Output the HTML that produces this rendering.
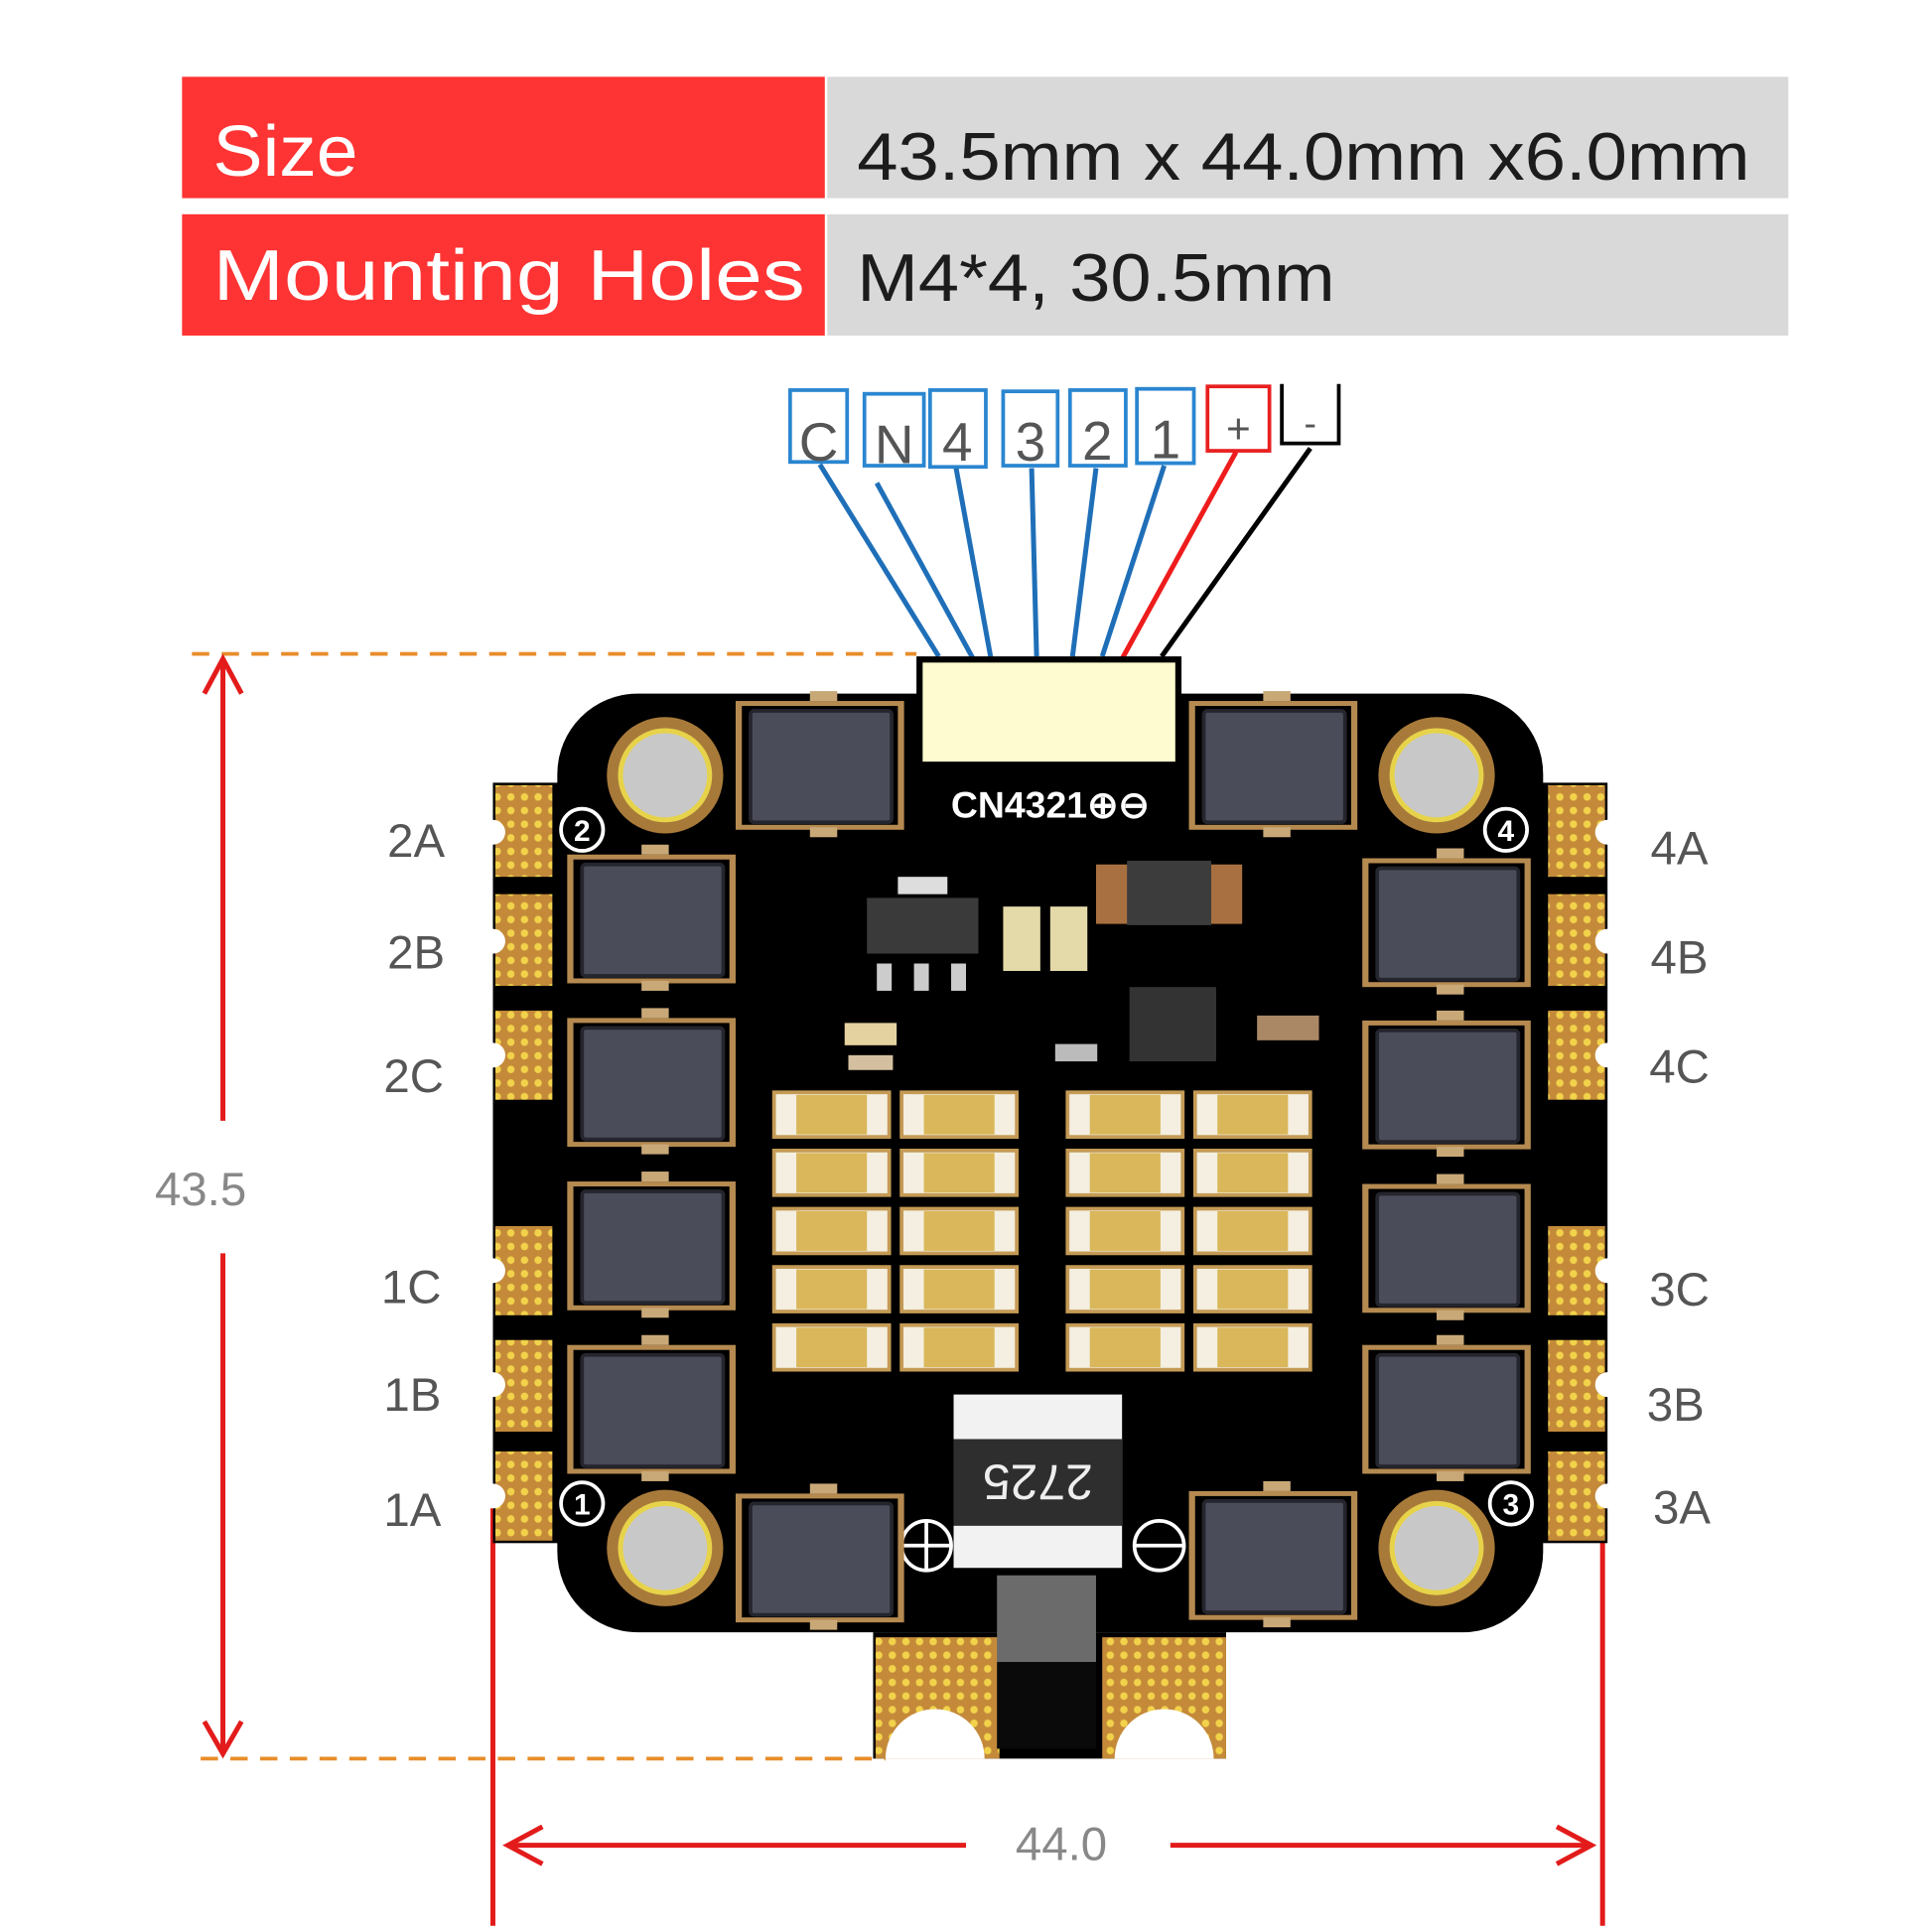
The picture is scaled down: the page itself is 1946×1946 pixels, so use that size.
<!DOCTYPE html>
<html><head><meta charset="utf-8"><style>
html,body{margin:0;padding:0;background:#fff;}
svg{display:block;}
text{font-family:"Liberation Sans",sans-serif;}
</style></head><body>
<svg width="1946" height="1946" viewBox="0 0 1560 1560" xmlns="http://www.w3.org/2000/svg">
<defs>
<pattern id="dots" width="11" height="11" patternUnits="userSpaceOnUse">
<rect width="11" height="11" fill="#c48a3a"/><circle cx="5.5" cy="5.5" r="3" fill="#f2d24a"/>
</pattern>
<g id="fet">
<rect x="-8" y="-4" width="136" height="104" fill="#b58a50"/>
<rect x="-3" y="0" width="126" height="96" fill="#000"/>
<rect x="4" y="4" width="114" height="90" rx="3" fill="#4b4c5a" stroke="#25252d" stroke-width="3"/>
<rect x="52" y="-12" width="22" height="8" fill="#c9a878"/>
<rect x="52" y="98" width="22" height="8" fill="#c9a878"/>
</g>
<g id="cap">
<rect x="0" y="0" width="93" height="36" fill="#f4efe0"/>
<rect x="18" y="2" width="57" height="32" fill="#d9b75a"/>
<rect x="0" y="0" width="93" height="36" fill="none" stroke="#c49a55" stroke-width="3"/>
</g>
</defs>
<rect width="1560" height="1560" fill="#fff"/>
<!-- table -->
<rect x="147" y="62" width="519" height="98" fill="#fe3333"/>
<rect x="668" y="62" width="776" height="98" fill="#d9d9d9"/>
<rect x="147" y="173" width="519" height="98" fill="#fe3333"/>
<rect x="668" y="173" width="776" height="98" fill="#d9d9d9"/>
<text x="172" y="142" font-size="58" fill="#fff" textLength="117" lengthAdjust="spacingAndGlyphs">Size</text>
<text x="172" y="242" font-size="58" fill="#fff" textLength="478" lengthAdjust="spacingAndGlyphs">Mounting Holes</text>
<text x="692" y="145" font-size="54" fill="#1c1c1c" textLength="721" lengthAdjust="spacingAndGlyphs">43.5mm x 44.0mm x6.0mm</text>
<text x="692" y="243" font-size="54" fill="#1c1c1c" textLength="386" lengthAdjust="spacingAndGlyphs">M4*4, 30.5mm</text>

<!-- wire labels -->
<g fill="#fff" stroke-width="3">
<rect x="638" y="315" width="46" height="58" stroke="#2a86d0"/>
<rect x="698" y="318" width="48" height="58" stroke="#2a86d0"/>
<rect x="751" y="315" width="45" height="62" stroke="#2a86d0"/>
<rect x="810" y="316" width="44" height="60" stroke="#2a86d0"/>
<rect x="864" y="315" width="45" height="61" stroke="#2a86d0"/>
<rect x="918" y="314" width="46" height="60" stroke="#2a86d0"/>
<rect x="975" y="312" width="50" height="52" stroke="#e82020"/>
</g>
<path d="M1035 310 V358 H1081 V310" fill="none" stroke="#000" stroke-width="3"/>
<g font-size="44" fill="#555" text-anchor="middle">
<text x="661" y="372">C</text><text x="722" y="374">N</text><text x="773" y="372">4</text>
<text x="832" y="372">3</text><text x="886" y="371">2</text><text x="941" y="370">1</text>
<text x="1000" y="358" font-size="34">+</text><text x="1058" y="352" font-size="30">-</text>
</g>
<g stroke="#1f6fb8" stroke-width="4" fill="none">
<line x1="662" y1="375" x2="758" y2="530"/>
<line x1="708" y1="390" x2="788" y2="536"/>
<line x1="772" y1="378" x2="800" y2="531"/>
<line x1="833" y1="378" x2="837" y2="530"/>
<line x1="885" y1="378" x2="866" y2="530"/>
<line x1="940" y1="376" x2="890" y2="530"/>
</g>
<line x1="998" y1="365" x2="906" y2="532" stroke="#ee1c1c" stroke-width="4"/>
<line x1="1058" y1="362" x2="938" y2="530" stroke="#000" stroke-width="4"/>

<!-- dimension lines -->
<line x1="155" y1="528" x2="740" y2="528" stroke="#e88d2a" stroke-width="3" stroke-dasharray="14 10"/>
<line x1="162" y1="1420" x2="715" y2="1420" stroke="#e88d2a" stroke-width="3" stroke-dasharray="14 10"/>
<g stroke="#e31b1b" stroke-width="4" fill="none">
<line x1="180" y1="532" x2="180" y2="905"/>
<line x1="180" y1="1012" x2="180" y2="1416"/>
<path d="M165 560 L180 532 L195 560"/>
<path d="M165 1390 L180 1416 L195 1390"/>
<line x1="398" y1="1205" x2="398" y2="1555"/>
<line x1="1294" y1="1205" x2="1294" y2="1555"/>
<line x1="410" y1="1490" x2="780" y2="1490"/>
<line x1="945" y1="1490" x2="1285" y2="1490"/>
<path d="M438 1475 L410 1490 L438 1505"/>
<path d="M1257 1475 L1285 1490 L1257 1505"/>
</g>
<text x="162" y="973" font-size="38" fill="#888" text-anchor="middle" font-family="Liberation Serif">43.5</text>
<text x="857" y="1502" font-size="38" fill="#888" text-anchor="middle" font-family="Liberation Serif">44.0</text>

<!-- side labels -->
<g font-size="38" fill="#555" text-anchor="middle">
<text x="336" y="692">2A</text><text x="336" y="782">2B</text><text x="334" y="882">2C</text>
<text x="332" y="1052">1C</text><text x="333" y="1139">1B</text><text x="333" y="1232">1A</text>
<text x="1356" y="698">4A</text><text x="1356" y="786">4B</text><text x="1356" y="874">4C</text>
<text x="1356" y="1054">3C</text><text x="1353" y="1147">3B</text><text x="1358" y="1230">3A</text>
</g>

<!-- board -->
<rect x="398" y="632" width="900" height="614" fill="#000"/>
<rect x="450" y="560" width="796" height="758" rx="65" fill="#000"/>
<g fill="url(#dots)">
<rect x="400" y="634" width="46" height="74"/><rect x="400" y="722" width="46" height="74"/>
<rect x="400" y="816" width="46" height="72"/><rect x="400" y="990" width="46" height="72"/>
<rect x="400" y="1082" width="46" height="74"/><rect x="400" y="1172" width="46" height="72"/>
<rect x="1250" y="634" width="46" height="74"/><rect x="1250" y="722" width="46" height="74"/>
<rect x="1250" y="816" width="46" height="72"/><rect x="1250" y="990" width="46" height="72"/>
<rect x="1250" y="1082" width="46" height="74"/><rect x="1250" y="1172" width="46" height="72"/>
</g>
<g fill="#fff">
<circle cx="398" cy="672" r="10"/><circle cx="398" cy="760" r="10"/><circle cx="398" cy="852" r="10"/>
<circle cx="398" cy="1026" r="10"/><circle cx="398" cy="1118" r="10"/><circle cx="398" cy="1208" r="10"/>
<circle cx="1298" cy="672" r="10"/><circle cx="1298" cy="760" r="10"/><circle cx="1298" cy="852" r="10"/>
<circle cx="1298" cy="1026" r="10"/><circle cx="1298" cy="1118" r="10"/><circle cx="1298" cy="1208" r="10"/>
</g>
<!-- bottom tab -->
<rect x="705" y="1318" width="285" height="102" fill="#000"/>
<rect x="707" y="1322" width="100" height="98" fill="url(#dots)"/>
<rect x="890" y="1322" width="100" height="98" fill="url(#dots)"/>
<path d="M715 1420 A40 40 0 0 1 795 1420 Z" fill="#fff"/>
<path d="M900 1420 A40 40 0 0 1 980 1420 Z" fill="#fff"/>
<rect x="805" y="1272" width="80" height="70" fill="#6b6b6b"/>
<rect x="805" y="1342" width="80" height="70" fill="#0a0a0a"/>

<!-- mounting holes -->
<g>
<circle cx="537" cy="626" r="47" fill="#a87a3a"/><circle cx="537" cy="626" r="38" fill="#e7d34a"/><circle cx="537" cy="626" r="34" fill="#c8c8c8"/>
<circle cx="1160" cy="626" r="47" fill="#a87a3a"/><circle cx="1160" cy="626" r="38" fill="#e7d34a"/><circle cx="1160" cy="626" r="34" fill="#c8c8c8"/>
<circle cx="537" cy="1250" r="47" fill="#a87a3a"/><circle cx="537" cy="1250" r="38" fill="#e7d34a"/><circle cx="537" cy="1250" r="34" fill="#c8c8c8"/>
<circle cx="1160" cy="1250" r="47" fill="#a87a3a"/><circle cx="1160" cy="1250" r="38" fill="#e7d34a"/><circle cx="1160" cy="1250" r="34" fill="#c8c8c8"/>
</g>
<g fill="none" stroke="#fff" stroke-width="3">
<circle cx="470" cy="670" r="17"/><circle cx="1216" cy="670" r="17"/>
<circle cx="470" cy="1214" r="17"/><circle cx="1220" cy="1214" r="17"/>
<circle cx="748" cy="1248" r="20"/><circle cx="936" cy="1248" r="20"/>
<line x1="728" y1="1248" x2="768" y2="1248"/><line x1="748" y1="1228" x2="748" y2="1268"/>
<line x1="916" y1="1248" x2="956" y2="1248"/>
</g>
<g font-size="24" fill="#fff" text-anchor="middle" font-weight="bold">
<text x="470" y="679">2</text><text x="1216" y="679">4</text><text x="470" y="1223">1</text><text x="1220" y="1223">3</text>
</g>

<!-- connector -->
<rect x="740" y="530" width="214" height="100" fill="#000"/>
<rect x="745" y="535" width="204" height="80" fill="#fdfbcf"/>
<text x="848" y="660" font-size="30" fill="#fff" text-anchor="middle" font-weight="bold" font-family="Liberation Mono">CN4321⊕⊖</text>

<!-- MOSFETs -->
<use href="#fet" x="466" y="694"/><use href="#fet" x="466" y="826"/>
<use href="#fet" x="466" y="958"/><use href="#fet" x="466" y="1090"/>
<use href="#fet" x="1108" y="697"/><use href="#fet" x="1108" y="828"/>
<use href="#fet" x="1108" y="960"/><use href="#fet" x="1108" y="1090"/>
<use href="#fet" x="602" y="570"/><use href="#fet" x="968" y="570"/>
<use href="#fet" x="602" y="1210"/><use href="#fet" x="968" y="1208"/>

<!-- small parts -->
<rect x="700" y="725" width="90" height="45" fill="#3a3a3a"/>
<rect x="725" y="708" width="40" height="14" fill="#ddd"/>
<rect x="708" y="778" width="12" height="22" fill="#ccc"/><rect x="738" y="778" width="12" height="22" fill="#ccc"/><rect x="768" y="778" width="12" height="22" fill="#ccc"/>
<rect x="885" y="698" width="118" height="48" fill="#a87040"/><rect x="910" y="695" width="68" height="52" fill="#3c3c3c"/>
<rect x="810" y="732" width="30" height="52" fill="#e4d9a8"/><rect x="848" y="732" width="30" height="52" fill="#e4d9a8"/>
<rect x="912" y="797" width="70" height="60" fill="#333"/>
<rect x="682" y="826" width="42" height="18" fill="#e4d2a0"/><rect x="685" y="852" width="36" height="12" fill="#d4c0a0"/>
<rect x="1015" y="820" width="50" height="20" fill="#aa8866"/>
<rect x="852" y="843" width="34" height="14" fill="#bbb"/>

<!-- caps -->
<g>
<use href="#cap" x="625" y="882"/><use href="#cap" x="728" y="882"/><use href="#cap" x="862" y="882"/><use href="#cap" x="965" y="882"/>
<use href="#cap" x="625" y="929"/><use href="#cap" x="728" y="929"/><use href="#cap" x="862" y="929"/><use href="#cap" x="965" y="929"/>
<use href="#cap" x="625" y="976"/><use href="#cap" x="728" y="976"/><use href="#cap" x="862" y="976"/><use href="#cap" x="965" y="976"/>
<use href="#cap" x="625" y="1023"/><use href="#cap" x="728" y="1023"/><use href="#cap" x="862" y="1023"/><use href="#cap" x="965" y="1023"/>
<use href="#cap" x="625" y="1070"/><use href="#cap" x="728" y="1070"/><use href="#cap" x="862" y="1070"/><use href="#cap" x="965" y="1070"/>
</g>

<!-- shunt resistor -->
<rect x="770" y="1126" width="136" height="140" fill="#f2f2f2"/>
<rect x="770" y="1162" width="136" height="70" fill="#2e2e2e"/>
<text x="838" y="1211" font-size="40" fill="#eee" text-anchor="middle" transform="rotate(180 838 1197)">2725</text>
</svg>
</body></html>
